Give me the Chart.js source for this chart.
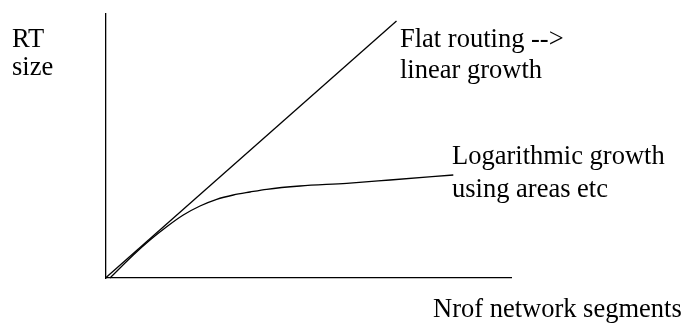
<!DOCTYPE html>
<html>
<head>
<meta charset="utf-8">
<script src="https://cdn.jsdelivr.net/npm/chart.js@4.4.0/dist/chart.umd.min.js"></script>
<style>
  html, body { margin: 0; padding: 0; background: #fff; }
  #chart { display: block; }
</style>
</head>
<body>
<canvas id="chart" width="686" height="324"></canvas>
<script>
// Sketch values (x = network segments, y = routing table size, arbitrary units)
const flatX = [0, 291];
const flatY = [0, 257];
const logX = [4.5, 27.8, 44.5, 61.2, 77.8, 94.5, 111.2, 127.8, 144.5, 161.2, 194.5, 241.2, 284.5, 347.8];
const logY = [0, 23, 38, 51.3, 63, 72, 78.7, 83, 86, 88.7, 92, 94.7, 98, 103];
const xMax = 405.5;
const yMax = 264;

// Text labels drawn on the figure
const labels = [
    { text: 'RT', x: 12, y: 47 },
    { text: 'size', x: 12, y: 75 },
    { text: 'Flat routing -->', x: 400, y: 47 },
    { text: 'linear growth', x: 400, y: 78 },
    { text: 'Logarithmic growth', x: 452, y: 164 },
    { text: 'using areas etc', x: 452, y: 197 },
    { text: 'Nrof network segments', x: 433, y: 317 }
];

function toPoints(xs, ys) {
    return xs.map((x, i) => ({ x: x, y: ys[i] }));
}

// Draw the free text labels after the chart
const textPlugin = {
    id: 'textLabels',
    afterDraw(chart) {
        const ctx = chart.ctx;
        ctx.save();
        ctx.fillStyle = '#000';
        ctx.font = '26.5px "Liberation Serif", "Times New Roman", serif';
        ctx.textBaseline = 'alphabetic';
        ctx.textAlign = 'left';
        labels.forEach(l => ctx.fillText(l.text, l.x, l.y));
        ctx.restore();
    }
};

let ctx = document.getElementById('chart').getContext('2d');
let sketchChart = new Chart(ctx, {
    type: 'scatter',
    data: {
        datasets: [
            {
                label: 'Flat routing',
                data: toPoints(flatX, flatY),
                showLine: true,
                borderColor: '#000',
                borderWidth: 1.3,
                pointRadius: 0,
                clip: false
            },
            {
                label: 'Logarithmic growth',
                data: toPoints(logX, logY),
                showLine: true,
                borderColor: '#000',
                borderWidth: 1.3,
                pointRadius: 0,
                cubicInterpolationMode: 'monotone',
                clip: false
            }
        ]
    },
    options: {
        responsive: false,
        animation: false,
        layout: {
            padding: { left: 105.5, top: 14, right: 175, bottom: 46 }
        },
        plugins: {
            legend: { display: false },
            tooltip: { enabled: false }
        },
        scales: {
            x: {
                type: 'linear',
                min: 0,
                max: xMax,
                ticks: { display: false },
                grid: { display: false },
                border: { color: '#000', width: 1.3 },
                afterFit: s => { s.height = 0; }
            },
            y: {
                type: 'linear',
                min: 0,
                max: yMax,
                ticks: { display: false },
                grid: { display: false },
                border: { color: '#000', width: 1.3 },
                afterFit: s => { s.width = 0; }
            }
        }
    },
    plugins: [textPlugin]
});
</script>
</body>
</html>
